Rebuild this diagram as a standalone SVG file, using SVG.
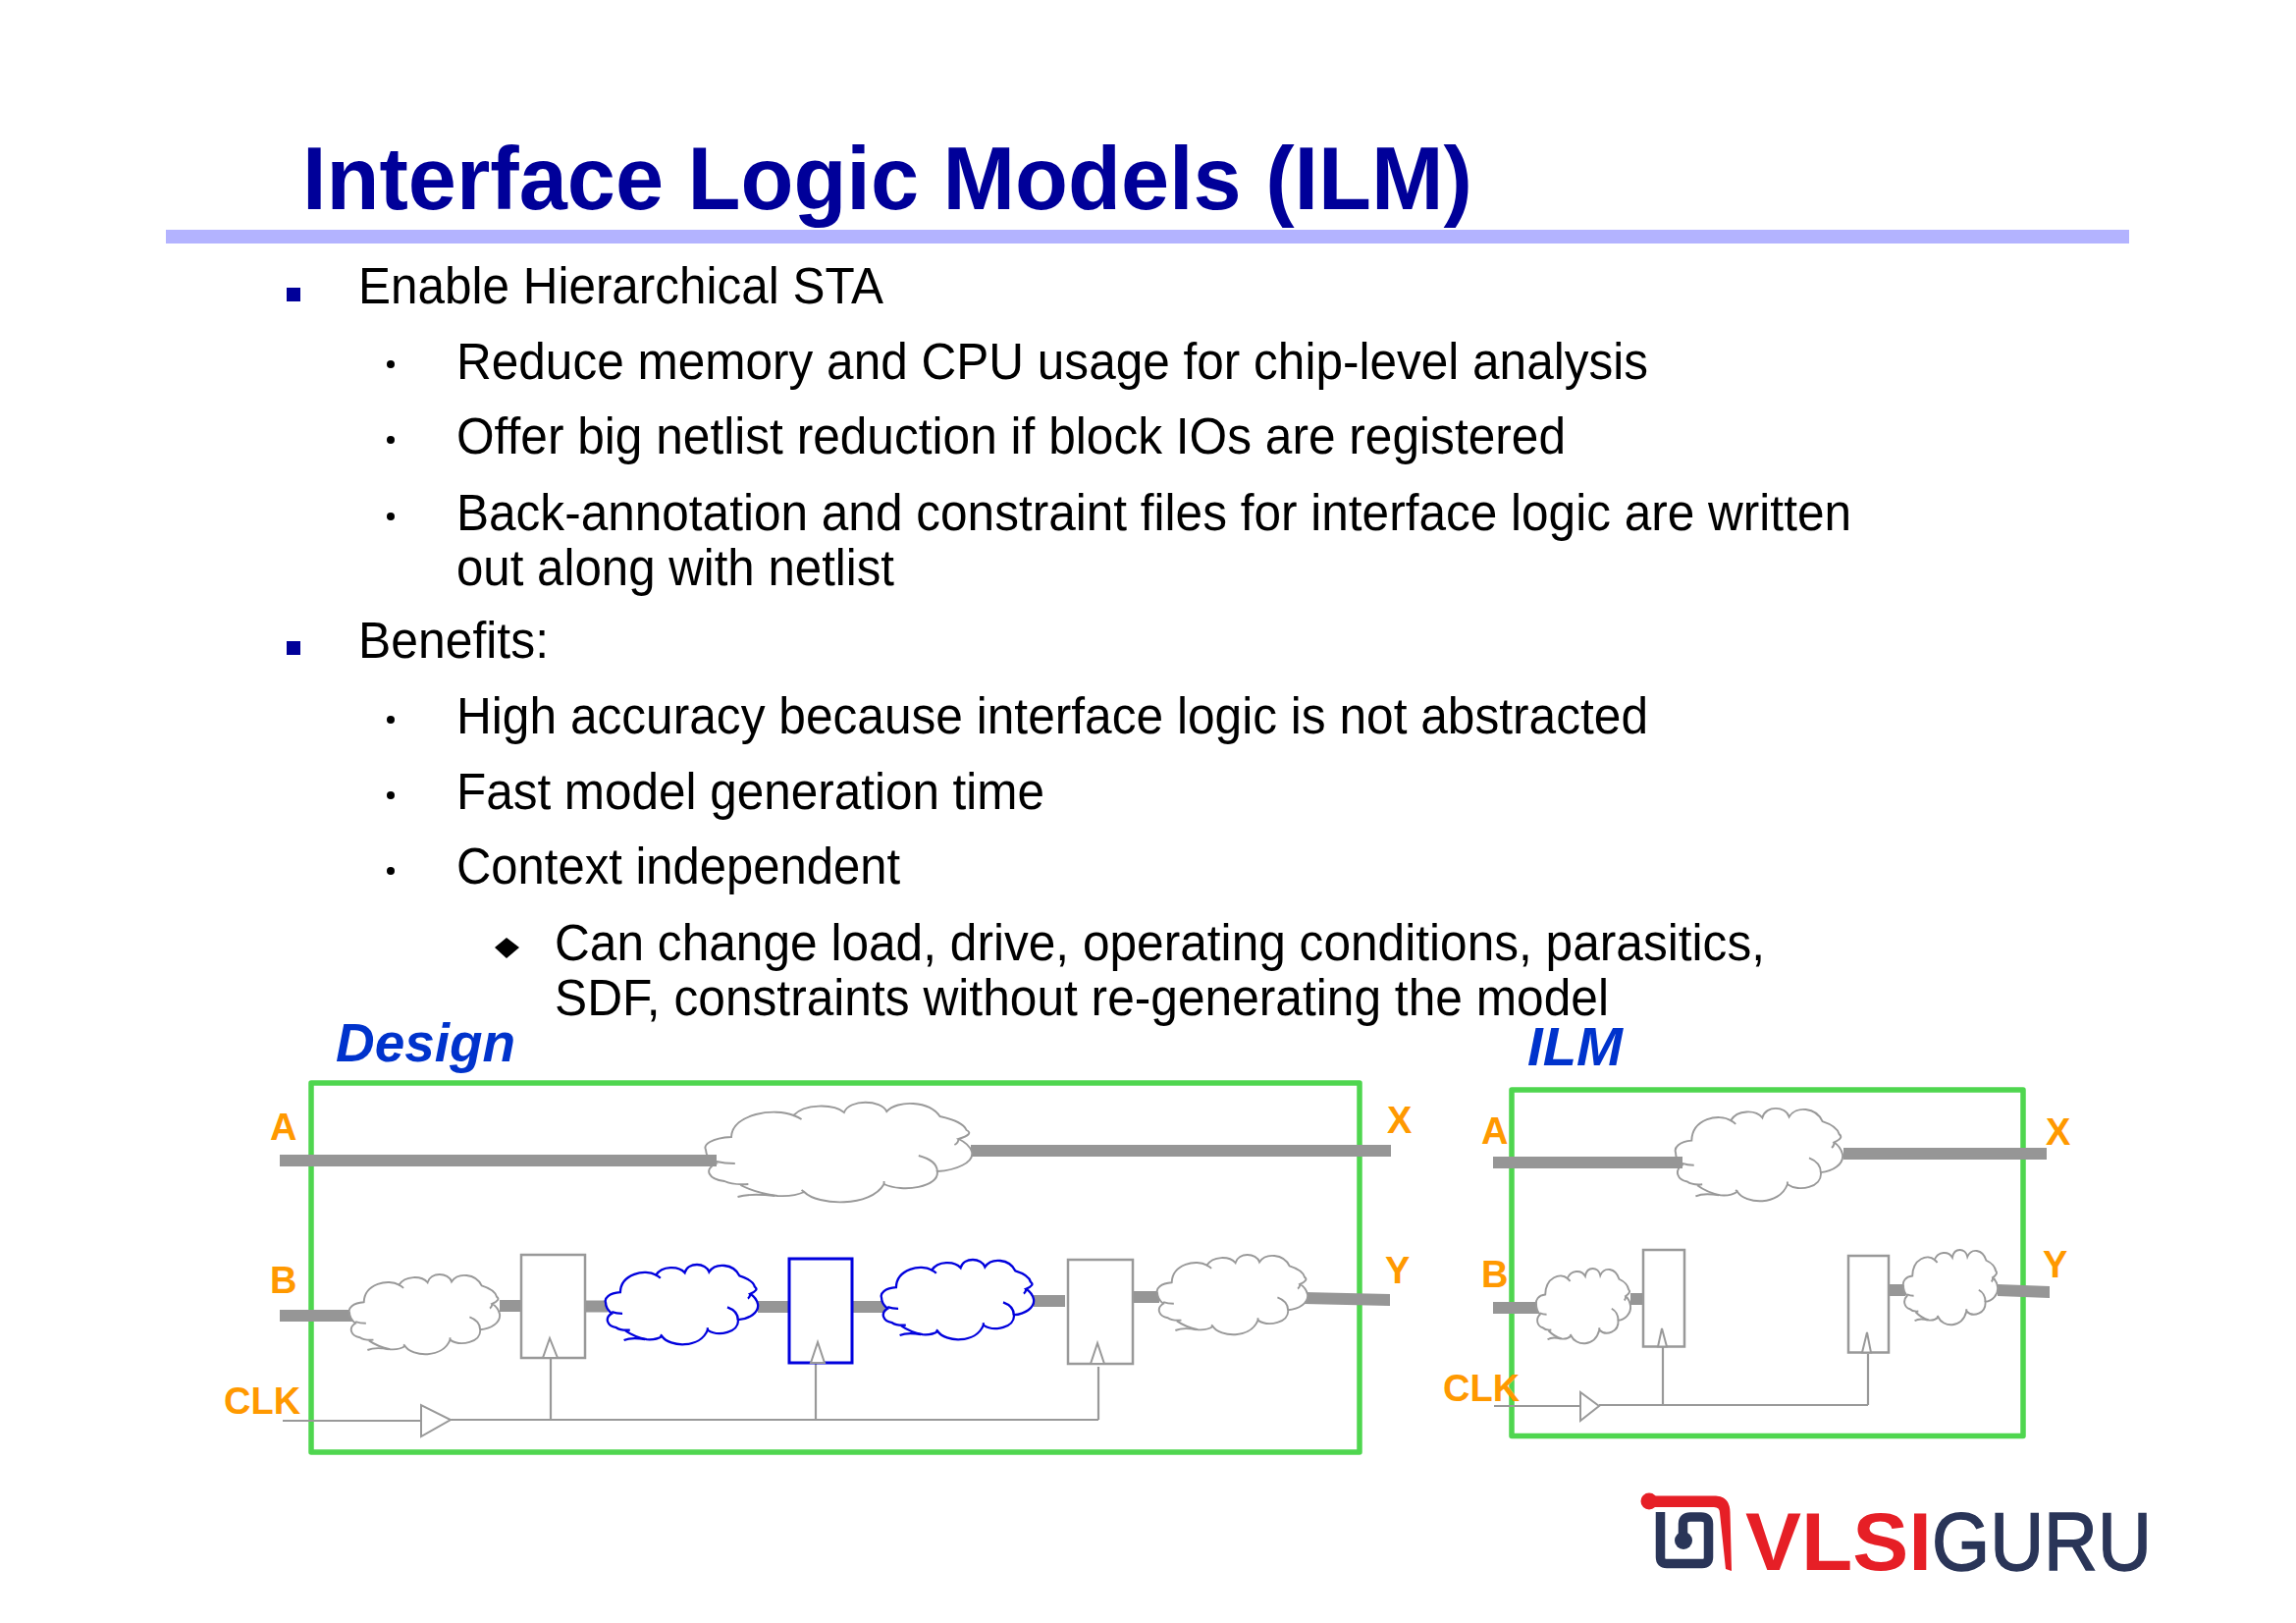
<svg xmlns="http://www.w3.org/2000/svg" width="2339" height="1653" viewBox="0 0 2339 1653">
<style>
text{font-family:"Liberation Sans",Arial,sans-serif}
.title{font-size:90px;font-weight:700;fill:#000099}
.body{font-size:51px;fill:#000}
.sq{fill:#000099}
.dot{fill:#000}
.lab{font-size:38px;font-weight:700;fill:#ff9900}
.head{font-size:56px;font-weight:700;font-style:italic;fill:#0033cc}
.box{fill:none;stroke:#4fd64f;stroke-width:5.5;stroke-linejoin:round}
.wire{fill:none;stroke:#969696;stroke-width:12}
.clk{fill:none;stroke:#999;stroke-width:2.2}
.reg{fill:#fff;stroke:#999;stroke-width:2.5}
.regb{fill:#fff;stroke:#0000dd;stroke-width:3}
.tri{fill:#fff;stroke:#999;stroke-width:2}
.cl{fill:#fff;stroke:#999;stroke-width:1.9}
.clb{fill:#fff;stroke:#0000dd;stroke-width:2.3}
.logor{fill:#e61f26}
.logon{fill:none;stroke:#2a3558;stroke-width:9.5}
</style>
<defs>
<g id="cloud">
<path vector-effect="non-scaling-stroke" d="M13 83 Q19 91 27 94 Q33 95 37 90 C42 104 62 106 67 82 C74 91 88 85 87 69 C94 68 101 60 100 49 Q99 41 95 36 Q101 31 98 27 C97 20 93 16 88 13 C84 -3 72 -4 68 8 C66 -4 54 -5 52 9 C48 0 37 0 33 12 C26 4 10 10 9.600 34 C2 35 -1 42 0 47 C0 53 2 58 4 61 C-1 67 1 77 7 79 Q10 83 16 82"/>
<path vector-effect="non-scaling-stroke" fill="none" d="M12 95 Q17 91 26 94 M4 59 Q7 61 11 61 M33 12 Q35 14 36 16 M95 36 Q95 40 93.500 42 M80 53 Q87 58 87 69 M67 82 L67 79 M37 90 L36 88"/>
</g>
</defs>
<g id="title"><text class="title" x="308" y="213" textLength="1192" lengthAdjust="spacingAndGlyphs">Interface Logic Models (ILM)</text>
<rect x="169" y="234" width="2000" height="14" fill="#b3b3ff"/></g>
<g id="bullets">
<rect class="sq" x="292" y="293" width="14" height="14"/>
<text class="body" x="365" y="309" textLength="535" lengthAdjust="spacingAndGlyphs">Enable Hierarchical STA</text>
<circle class="dot" cx="398" cy="371" r="4"/>
<text class="body" x="465" y="386" textLength="1214" lengthAdjust="spacingAndGlyphs">Reduce memory and CPU usage for chip-level analysis</text>
<circle class="dot" cx="398" cy="448" r="4"/>
<text class="body" x="465" y="462" textLength="1130" lengthAdjust="spacingAndGlyphs">Offer big netlist reduction if block IOs are registered</text>
<circle class="dot" cx="398" cy="526" r="4"/>
<text class="body" x="465" y="539.500" textLength="1421" lengthAdjust="spacingAndGlyphs">Back-annotation and constraint files for interface logic are written</text>
<text class="body" x="465" y="595.500" textLength="446" lengthAdjust="spacingAndGlyphs">out along with netlist</text>
<rect class="sq" x="292" y="653" width="14" height="14"/>
<text class="body" x="365" y="669.500" textLength="194" lengthAdjust="spacingAndGlyphs">Benefits:</text>
<circle class="dot" cx="398" cy="733" r="4"/>
<text class="body" x="465" y="746.500" textLength="1214" lengthAdjust="spacingAndGlyphs">High accuracy because interface logic is not abstracted</text>
<circle class="dot" cx="398" cy="810" r="4"/>
<text class="body" x="465" y="823.500" textLength="599" lengthAdjust="spacingAndGlyphs">Fast model generation time</text>
<circle class="dot" cx="398" cy="887" r="4"/>
<text class="body" x="465" y="899.500" textLength="452" lengthAdjust="spacingAndGlyphs">Context independent</text>
<polygon class="dot" points="504,965 516,955 529,965 516,976"/>
<text class="body" x="565" y="977.500" textLength="1233" lengthAdjust="spacingAndGlyphs">Can change load, drive, operating conditions, parasitics,</text>
<text class="body" x="565" y="1033.500" textLength="1074" lengthAdjust="spacingAndGlyphs">SDF, constraints without re-generating the model</text>
</g>
<g id="design">
<text class="head" x="342" y="1081" textLength="183" lengthAdjust="spacingAndGlyphs">Design</text>
<rect id="design-box" class="box" x="317" y="1103" width="1068" height="376"/>
<g id="design-connectors">
<path class="wire" d="M989 1172H1417M285 1340H359M509 1330H531M596 1330.500H619M772 1331H804M868 1331H902M1053 1325H1085M1154 1321H1181"/>
<polygon fill="#969696" points="1328,1316 1416,1318 1416,1330 1328,1328"/>
<path class="clk" d="M288 1447H429M459 1446H1119M561 1446V1383M831 1446V1388M1119 1446V1392"/>
<polygon class="tri" points="429,1431 429,1463 459,1446"/>
</g>
<use id="d-cloud-a" class="cl" href="#cloud" transform="translate(719 1124) scale(2.71 1)"/>
<use id="d-cloud-b" class="cl" href="#cloud" transform="translate(356 1299) scale(1.53 .8)"/>
<use id="d-cloud-c" class="clb" href="#cloud" transform="translate(617 1289) scale(1.55 .8)"/>
<use id="d-cloud-d" class="clb" href="#cloud" transform="translate(898 1284) scale(1.55 .8)"/>
<use id="d-cloud-e" class="cl" href="#cloud" transform="translate(1179 1279) scale(1.53 .8)"/>
<path class="wire" d="M285 1182H730"/>
<g id="d-reg1"><rect class="reg" x="531" y="1278" width="65" height="105"/><polygon class="tri" points="560,1363 553,1383 568,1383"/></g>
<g id="d-reg2"><rect class="regb" x="804" y="1282" width="64" height="106"/><polygon class="tri" points="833,1367 826,1388 840,1388"/></g>
<g id="d-reg3"><rect class="reg" x="1088" y="1283" width="66" height="106"/><polygon class="tri" points="1118,1368 1111,1389 1125,1389"/></g>
<text class="lab" x="275" y="1161">A</text><text class="lab" x="1413" y="1154">X</text>
<text class="lab" x="275" y="1317">B</text><text class="lab" x="1411" y="1307">Y</text>
<text class="lab" x="228" y="1440">CLK</text>
</g>
<g id="ilm">
<text class="head" x="1556" y="1085" textLength="97" lengthAdjust="spacingAndGlyphs">ILM</text>
<rect id="ilm-box" class="box" x="1540" y="1110" width="521" height="352.500"/>
<g id="ilm-connectors">
<path class="wire" d="M1878 1175H2085M1521 1332H1567M1661 1323H1674M1924 1314H1941"/>
<polygon fill="#969696" points="2035,1308 2088,1310 2088,1322 2035,1320"/>
<path class="clk" d="M1522 1432H1610M1629 1431H1903M1694 1431V1372M1903 1431V1379"/>
<polygon class="tri" points="1610,1418 1610,1447 1629,1432"/>
</g>
<use id="i-cloud-a" class="cl" href="#cloud" transform="translate(1707 1130) scale(1.7 .93)"/>
<use id="i-cloud-b" class="cl" href="#cloud" transform="translate(1565 1293) scale(.96 .75)"/>
<use id="i-cloud-c" class="cl" href="#cloud" transform="translate(1939 1274) scale(.96 .75)"/>
<path class="wire" d="M1521 1184H1714"/>
<g id="i-reg1"><rect class="reg" x="1674" y="1273" width="42" height="98.500"/><polygon class="tri" points="1693,1353 1689,1371.500 1698,1371.500"/></g>
<g id="i-reg2"><rect class="reg" x="1883" y="1279" width="41" height="98.500"/><polygon class="tri" points="1902,1357 1897,1377.500 1906,1377.500"/></g>
<text class="lab" x="1509" y="1165">A</text><text class="lab" x="2084" y="1166">X</text>
<text class="lab" x="1509" y="1311">B</text><text class="lab" x="2081" y="1301">Y</text>
<text class="lab" x="1470" y="1427">CLK</text>
</g>
<g id="logo">
<circle class="logor" cx="1680" cy="1529" r="8.500"/>
<path class="logor" d="M1680 1523.500H1748Q1762 1524 1762.500 1540L1764 1600L1758 1598L1752 1541Q1752 1535 1746 1535H1680Z"/>
<path class="logon" d="M1691.500 1540V1586Q1691.500 1592.500 1698 1592.500H1734Q1740.500 1592.500 1740.500 1586V1552Q1740.500 1545 1733 1545H1722Q1714.500 1545 1714.500 1552V1568"/>
<circle cx="1715" cy="1569" r="9" fill="#2a3558"/>
<text x="1778" y="1599" font-size="84" font-weight="700" fill="#e61f26" textLength="190" lengthAdjust="spacingAndGlyphs">VLSI</text>
<text x="1968" y="1599" font-size="84" fill="#2a3558" stroke="#2a3558" stroke-width="1.500" textLength="224" lengthAdjust="spacingAndGlyphs">GURU</text>
</g>
</svg>
